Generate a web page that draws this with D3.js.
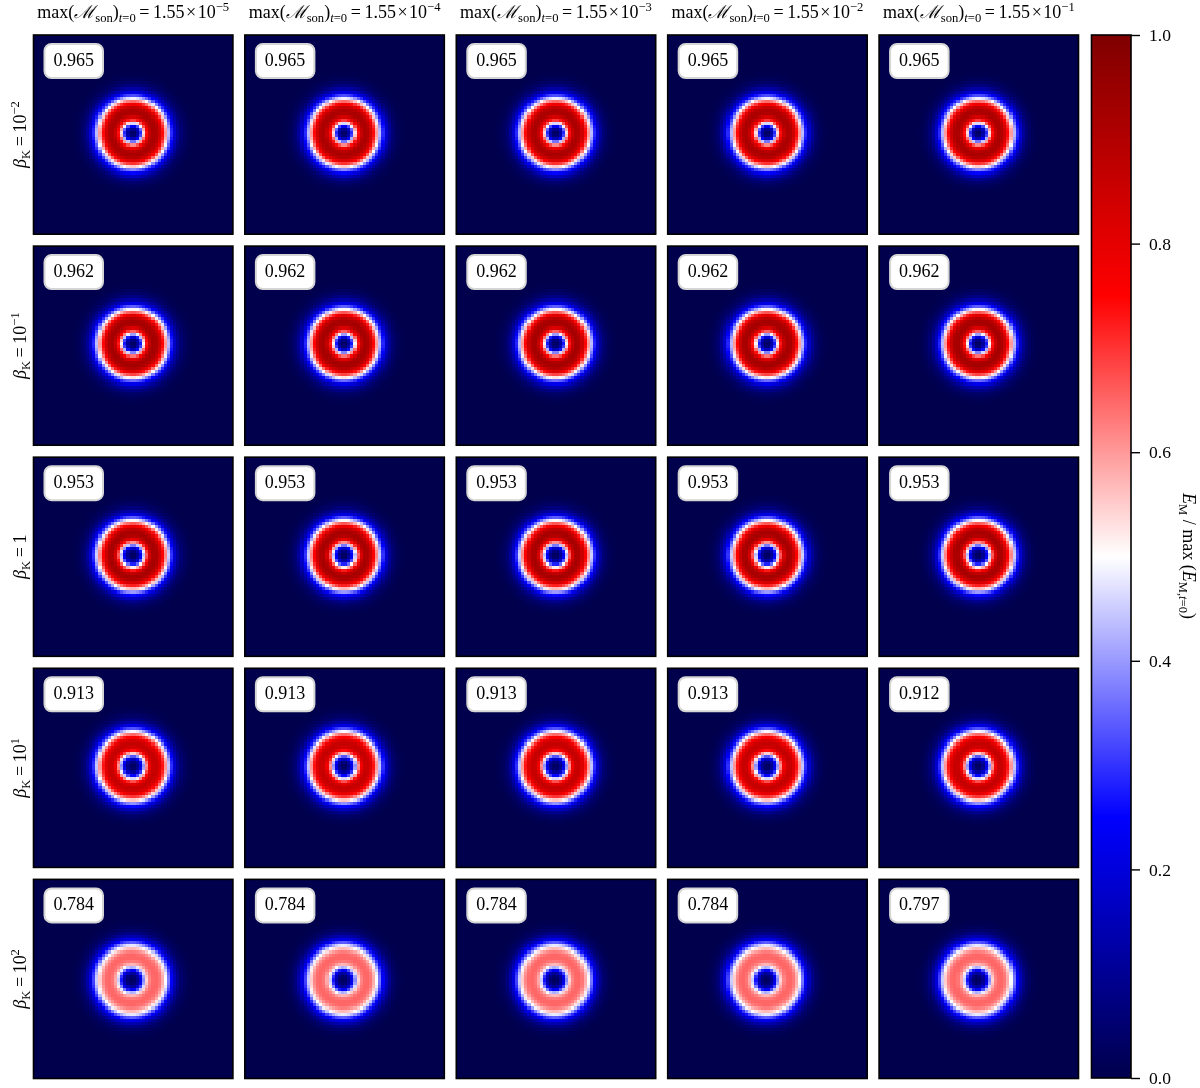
<!DOCTYPE html>
<html>
<head>
<meta charset="utf-8">
<script src="https://cdn.jsdelivr.net/npm/d3@7"></script>
<style>
html, body { margin: 0; padding: 0; background: #fff; }
#chart { position: relative; width: 1200px; height: 1088px; overflow: hidden; }
canvas, svg { position: absolute; left: 0; top: 0; }
text { font-family: "Liberation Serif", serif; fill: #000; }
</style>
</head>
<body>
<div id="chart">
<canvas id="cells" width="1200" height="1088"></canvas>
<svg id="plot" width="1200" height="1088"></svg>
</div>
<script>
var machExponents = ["\u22125", "\u22124", "\u22123", "\u22122", "\u22121"]
var betaLabels = ["\u22122", "\u22121", null, "1", "2"]

var overlapRow1 = ["0.965", "0.965", "0.965", "0.965", "0.965"]
var overlapRow2 = ["0.962", "0.962", "0.962", "0.962", "0.962"]
var overlapRow3 = ["0.953", "0.953", "0.953", "0.953", "0.953"]
var overlapRow4 = ["0.913", "0.913", "0.913", "0.913", "0.912"]
var overlapRow5 = ["0.784", "0.784", "0.784", "0.784", "0.797"]
var overlaps = [overlapRow1, overlapRow2, overlapRow3, overlapRow4, overlapRow5]

var radii = [0, 1, 2, 3, 4, 5, 6, 7, 8, 9, 10, 11, 12, 13, 14, 15, 16, 18, 20]
var profileRow1 = [0.02, 0.05, 0.17, 0.40, 0.66, 0.81, 0.90, 0.92, 0.89, 0.81, 0.68, 0.52, 0.35, 0.23, 0.14, 0.08, 0.04, 0.01, 0]
var profileRow2 = [0.02, 0.05, 0.16, 0.38, 0.64, 0.81, 0.91, 0.93, 0.90, 0.82, 0.68, 0.52, 0.35, 0.22, 0.13, 0.08, 0.04, 0.01, 0]
var profileRow3 = [0.02, 0.04, 0.13, 0.31, 0.56, 0.76, 0.89, 0.93, 0.90, 0.82, 0.70, 0.54, 0.37, 0.23, 0.14, 0.08, 0.04, 0.01, 0]
var profileRow4 = [0.02, 0.04, 0.12, 0.28, 0.50, 0.71, 0.83, 0.87, 0.85, 0.79, 0.68, 0.53, 0.36, 0.23, 0.14, 0.08, 0.04, 0.01, 0]
var profileRow5 = [0.02, 0.04, 0.10, 0.23, 0.42, 0.57, 0.63, 0.65, 0.65, 0.63, 0.57, 0.48, 0.34, 0.22, 0.14, 0.08, 0.04, 0.01, 0]
var profiles = [profileRow1, profileRow2, profileRow3, profileRow4, profileRow5]

// where the ring sits in each row, in image cells from the panel middle
var ringCenterX = [0, 0, 0, 0, -0.3]
var ringCenterY = [-0.3, -0.45, -0.3, -0.3, 0.5]

var colorbarTicks = [0, 0.2, 0.4, 0.6, 0.8, 1]
var seismicStops = [0, 0.25, 0.5, 0.75, 1]
var seismicColors = ["#00004c", "#0000ff", "#ffffff", "#ff0000", "#7f0000"]

var gridSize = 64

var svg = d3.select("#plot")
var ctx = document.getElementById("cells").getContext("2d")

var color = d3.scaleLinear().domain(seismicStops).range(seismicColors).clamp(true)

var col = d3.scaleBand().domain(d3.range(5)).range([33.5, 1078.5]).paddingInner(0.0567).paddingOuter(0)
var row = d3.scaleBand().domain(d3.range(5)).range([35, 1078.5]).paddingInner(0.0567).paddingOuter(0)

// writes a label from [string, "sub"|"sup"|null, italic] pieces
function mathText(sel, parts, size) {
	var shift = 0
	parts.forEach(p => {
		var target = p[1] === "sub" ? size * 0.22 : p[1] === "sup" ? -size * 0.4 : 0
		sel.append("tspan")
			.attr("dy", target - shift)
			.attr("font-size", p[1] ? size * 0.7 : size)
			.attr("font-style", p[2] ? "italic" : "normal")
			.text(p[0])
		shift = target
	})
}

function drawPanel(i, j) {
	var x0 = col(j), y0 = row(i), w = col.bandwidth(), h = row.bandwidth()
	var radial = d3.scaleLinear().domain(radii).range(profiles[i]).clamp(true)
	var cx = d3.scaleLinear().domain([0, gridSize]).range([x0, x0 + w])
	var cy = d3.scaleLinear().domain([0, gridSize]).range([y0, y0 + h])
	d3.range(gridSize).forEach(a => {
		d3.range(gridSize).forEach(b => {
			var r = Math.hypot(a + 0.5 - gridSize / 2 - ringCenterX[i], b + 0.5 - gridSize / 2 - ringCenterY[i])
			ctx.fillStyle = color(radial(r))
			var left = Math.floor(cx(a)), top = Math.floor(cy(b))
			ctx.fillRect(left, top, Math.ceil(cx(a + 1)) - left, Math.ceil(cy(b + 1)) - top)
		})
	})

	svg.append("rect")
		.attr("x", x0).attr("y", y0)
		.attr("width", w).attr("height", h)
		.attr("fill", "none")
		.attr("stroke", "#000")
		.attr("stroke-width", 1.6)

	svg.append("rect")
		.attr("x", x0 + 11).attr("y", y0 + 9)
		.attr("width", 58.5).attr("height", 34)
		.attr("rx", 7)
		.attr("fill", "#fff")
		.attr("stroke", "#d5d5d5")
		.attr("stroke-width", 2)

	svg.append("text")
		.attr("x", x0 + 40.2).attr("y", y0 + 31)
		.attr("text-anchor", "middle")
		.attr("font-size", 18)
		.text(overlaps[i][j])
}

function drawTitles() {
	machExponents.forEach((e, j) => {
		var t = svg.append("text")
			.attr("x", col(j) + col.bandwidth() / 2)
			.attr("y", 18)
			.attr("text-anchor", "middle")
		mathText(t, [
			["max(", null], ["\u2133", null, true], ["son", "sub"], [")", null],
			["t", "sub", true], ["=0", "sub"], ["\u2009=\u20091.55\u200a\u00d7\u200a10", null], [e, "sup"]
		], 18)
	})
	betaLabels.forEach((e, i) => {
		var t = svg.append("text")
			.attr("transform", `translate(26,${row(i) + row.bandwidth() / 2}) rotate(-90)`)
			.attr("text-anchor", "middle")
		var parts = [["\u03b2", null, true], ["K", "sub"]]
		if (e === null) parts.push(["\u2009=\u20091", null])
		else parts.push(["\u2009=\u200910", null], [e, "sup"])
		mathText(t, parts, 18)
	})
}

function drawColorbar() {
	var barX = 1091.5, barW = 39.5
	var y = d3.scaleLinear().domain([0, 1]).range([1078, 35])

	svg.append("defs").append("linearGradient")
		.attr("id", "seismic")
		.attr("x1", 0).attr("y1", 1).attr("x2", 0).attr("y2", 0)
		.selectAll("stop")
		.data(seismicStops)
		.join("stop")
		.attr("offset", d => d)
		.attr("stop-color", d => color(d))

	svg.append("rect")
		.attr("x", barX).attr("y", y(1))
		.attr("width", barW).attr("height", y(0) - y(1))
		.attr("fill", "url(#seismic)")
		.attr("stroke", "#000")
		.attr("stroke-width", 1.6)

	var axis = d3.axisRight(y)
		.tickValues(colorbarTicks)
		.tickFormat(d3.format(".1f"))
		.tickSize(9)
		.tickPadding(9)
		.tickSizeOuter(0)

	var g = svg.append("g")
		.attr("transform", `translate(${barX + barW},0)`)
		.call(axis)
	g.select(".domain").remove()
	g.selectAll("line").attr("stroke", "#000").attr("stroke-width", 1.4)
	g.selectAll("text")
		.attr("font-family", "Liberation Serif")
		.attr("font-size", 17.5)

	var label = svg.append("text")
		.attr("transform", "translate(1183,556) rotate(90)")
		.attr("text-anchor", "middle")
	mathText(label, [
		["E", null, true], ["M", "sub"], [" / max (", null], ["E", null, true],
		["M,", "sub"], ["t", "sub", true], ["=0", "sub"], [")", null]
	], 18)
}

d3.range(5).forEach(i => d3.range(5).forEach(j => drawPanel(i, j)))
drawTitles()
drawColorbar()
</script>
</body>
</html>
